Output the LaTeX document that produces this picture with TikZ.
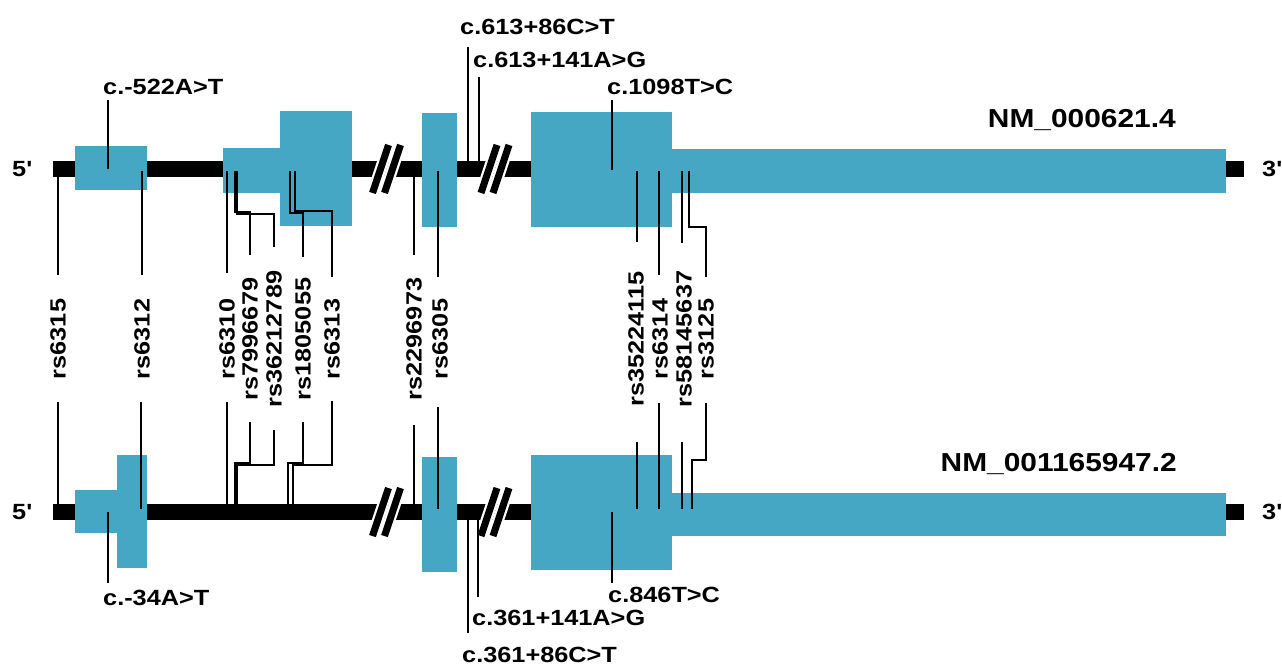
\documentclass[tikz,border=0pt]{standalone}
\usepackage{fontspec}
\newfontfamily\labfont{Liberation Sans}[FakeStretch=1.15]
\usetikzlibrary{calc}
\definecolor{exon}{HTML}{46A7C4}
\tikzset{
  lab/.style={font=\labfont\bfseries\fontsize{22}{24}\selectfont, inner sep=0pt, text=black},
  rslab/.style={lab, rotate=90},
  titlelab/.style={font=\labfont\bfseries\fontsize{26}{28}\selectfont, inner sep=0pt, text=black},
  lead/.style={line width=1.5pt, draw=black},
  tx/.style={line width=16pt, draw=black},
  brkw/.style={line width=11.5pt, draw=white},
  brkb/.style={line width=7pt, draw=black},
}
\begin{document}
\begin{tikzpicture}[x=1pt,y=-1pt]
\useasboundingbox (0,0) rectangle (1282,666);
% transcripts
\coordinate (t5) at (53,169); \coordinate (t3) at (1244,169);
\coordinate (b5) at (53,512); \coordinate (b3) at (1244,512);
\draw[tx] (t5) -- (t3);
\draw[tx] (b5) -- (b3);
% breaks
\foreach \yc in {169,512}{
  \foreach \xb in {380.5,392.5,489,501}{
    \draw[brkw] (\xb-8,\yc+24) -- (\xb+8,\yc-24);
  }
  \foreach \xb in {380.5,392.5,489,501}{
    \draw[brkb] (\xb-8,\yc+24) -- (\xb+8,\yc-24);
  }
}
% exons top
\fill[exon] (75,146) rectangle (147,190);
\fill[exon] (223,148) rectangle (281,193);
\fill[exon] (280,111) rectangle (352,226);
\fill[exon] (422,113) rectangle (457,227);
\fill[exon] (531,112) rectangle (672,227);
\fill[exon] (671,149) rectangle (1226,193);
% exons bottom
\fill[exon] (75,490) rectangle (147,533);
\fill[exon] (117,455) rectangle (147,568);
\fill[exon] (422,457) rectangle (457,572);
\fill[exon] (531,455) rectangle (672,570);
\fill[exon] (671,493) rectangle (1226,536);
% end labels
\node[lab, anchor=west] (p5t) at (12,169) {5'};
\node[lab, anchor=west] (p5b) at (12,512) {5'};
\node[lab, anchor=west] (p3t) at (1262,169) {3'};
\node[lab, anchor=west] (p3b) at (1262,512) {3'};
\node[titlelab, anchor=base east] (nm1) at (1176,128) {NM\_000621.4};
\node[titlelab, anchor=base east] (nm2) at (1177,471) {NM\_001165947.2};
% c. labels
\node[lab, anchor=base west] (c522) at (103,95) {c.-522A>T};
\node[lab, anchor=base west] (c613a) at (460,35) {c.613+86C>T};
\node[lab, anchor=base west] (c613b) at (473,68) {c.613+141A>G};
\node[lab, anchor=base west] (c1098) at (607,95) {c.1098T>C};
\node[lab, anchor=base west] (c34) at (103,605) {c.-34A>T};
\node[lab, anchor=base west] (c846) at (608,602) {c.846T>C};
\node[lab, anchor=base west] (c361b) at (472,625) {c.361+141A>G};
\node[lab, anchor=base west] (c361a) at (462,662) {c.361+86C>T};
\coordinate (s522) at (108,169);
\coordinate (s613a) at (468,169);
\coordinate (s613b) at (479,169);
\coordinate (s1098) at (612,170);
\coordinate (s34) at (108,512);
\coordinate (s846) at (612,512);
\coordinate (s361b) at (478,512);
\coordinate (s361a) at (468,512);
\draw[lead] (s522) -- ($(c522.base -| s522)+(0,5)$);
\draw[lead] (s613a) -- ($(c613a.base -| s613a)+(0,12)$);
\draw[lead] (s613b) -- ($(c613b.base -| s613b)+(0,9)$);
\draw[lead] (s1098) -- ($(c1098.base -| s1098)+(0,5)$);
\draw[lead] (s34) -- ($(c34.north -| s34)+(0,-6)$);
\draw[lead] (s846) -- ($(c846.north -| s846)+(0,-3)$);
\draw[lead] (s361b) -- ($(c361b.north -| s361b)+(0,-12)$);
\draw[lead] (s361a) -- ($(c361a.north -| s361a)+(0,-13)$);
% rs labels
\node[rslab] (rs6315) at (58,339) {rs6315};
\node[rslab] (rs6312) at (142,339) {rs6312};
\node[rslab] (rs6310) at (227,339) {rs6310};
\node[rslab] (rs7996679) at (250,339) {rs7996679};
\node[rslab] (rs36212789) at (274,339) {rs36212789};
\node[rslab] (rs1805055) at (303,339) {rs1805055};
\node[rslab] (rs6313) at (332,339) {rs6313};
\node[rslab] (rs2296973) at (414,339) {rs2296973};
\node[rslab] (rs6305) at (440,339) {rs6305};
\node[rslab] (rs35224115) at (636,339) {rs35224115};
\node[rslab] (rs6314) at (660,339) {rs6314};
\node[rslab] (rs58145637) at (684,339) {rs58145637};
\node[rslab] (rs3125) at (706,339) {rs3125};
% rs sites, top transcript
\coordinate (T6315) at (58,171);
\coordinate (T6312) at (142,171);
\coordinate (T6310) at (227,171);
\coordinate (T7996679) at (235,171);
\coordinate (T36212789) at (237,171);
\coordinate (T1805055) at (290,171);
\coordinate (T6313) at (295,171);
\coordinate (T2296973) at (414,171);
\coordinate (T6305) at (438,171);
\coordinate (T35224115) at (637,171);
\coordinate (T6314) at (659,171);
\coordinate (T58145637) at (682,171);
\coordinate (T3125) at (689,171);
% rs sites, bottom transcript
\coordinate (B6315) at (58,509);
\coordinate (B6312) at (141,509);
\coordinate (B6310) at (227,509);
\coordinate (B7996679) at (235,509);
\coordinate (B36212789) at (237,509);
\coordinate (B1805055) at (288,509);
\coordinate (B6313) at (293,509);
\coordinate (B2296973) at (414,509);
\coordinate (B6305) at (438,509);
\coordinate (B35224115) at (637,509);
\coordinate (B6314) at (659,509);
\coordinate (B58145637) at (682,509);
\coordinate (B3125) at (692,509);
% top leaders
\draw[lead] (T6315) -- ($(rs6315.east -| T6315)+(0,-24)$);
\draw[lead] (T6312) -- ($(rs6312.east -| T6312)+(0,-24)$);
\draw[lead] (T6310) -- ($(rs6310.east -| T6310)+(0,-26)$);
\draw[lead] (T7996679) -- ++(0,41) -| ($(rs7996679.east)+(0,-23)$);
\draw[lead] (T36212789) -- ++(0,43) -| ($(rs36212789.east)+(0,-24)$);
\draw[lead] (T1805055) -- ++(0,42) -| ($(rs1805055.east)+(0,-21)$);
\draw[lead] (T6313) -- ++(0,40) -| ($(rs6313.east)+(0,-22)$);
\draw[lead] (T2296973) -- ($(rs2296973.east -| T2296973)+(0,-23)$);
\draw[lead] (T6305) -- ($(rs6305.east -| T6305)+(0,-22)$);
\draw[lead] (T35224115) -- ($(rs35224115.east -| T35224115)+(0,-29)$);
\draw[lead] (T6314) -- ($(rs6314.east -| T6314)+(0,-24)$);
\draw[lead] (T58145637) -- ($(rs58145637.east -| T58145637)+(0,-28)$);
\draw[lead] (T3125) -- ++(0,56) -| ($(rs3125.east)+(0,-22)$);
% bottom leaders
\draw[lead] (B6315) -- ($(rs6315.west -| B6315)+(0,23)$);
\draw[lead] (B6312) -- ($(rs6312.west -| B6312)+(0,23)$);
\draw[lead] (B6310) -- ($(rs6310.west -| B6310)+(0,23)$);
\draw[lead] (B7996679) -- ++(0,-46) -| ($(rs7996679.west)+(0,22)$);
\draw[lead] (B36212789) -- ++(0,-44) -| ($(rs36212789.west)+(0,23)$);
\draw[lead] (B1805055) -- ++(0,-46) -| ($(rs1805055.west)+(0,22)$);
\draw[lead] (B6313) -- ++(0,-44) -| ($(rs6313.west)+(0,22)$);
\draw[lead] (B2296973) -- ($(rs2296973.west -| B2296973)+(0,25)$);
\draw[lead] (B6305) -- ($(rs6305.west -| B6305)+(0,28)$);
\draw[lead] (B35224115) -- ($(rs35224115.west -| B35224115)+(0,35)$);
\draw[lead] (B6314) -- ($(rs6314.west -| B6314)+(0,24)$);
\draw[lead] (B58145637) -- ($(rs58145637.west -| B58145637)+(0,35)$);
\draw[lead] (B3125) -- ++(0,-49) -| ($(rs3125.west)+(0,24)$);
\end{tikzpicture}
\end{document}
